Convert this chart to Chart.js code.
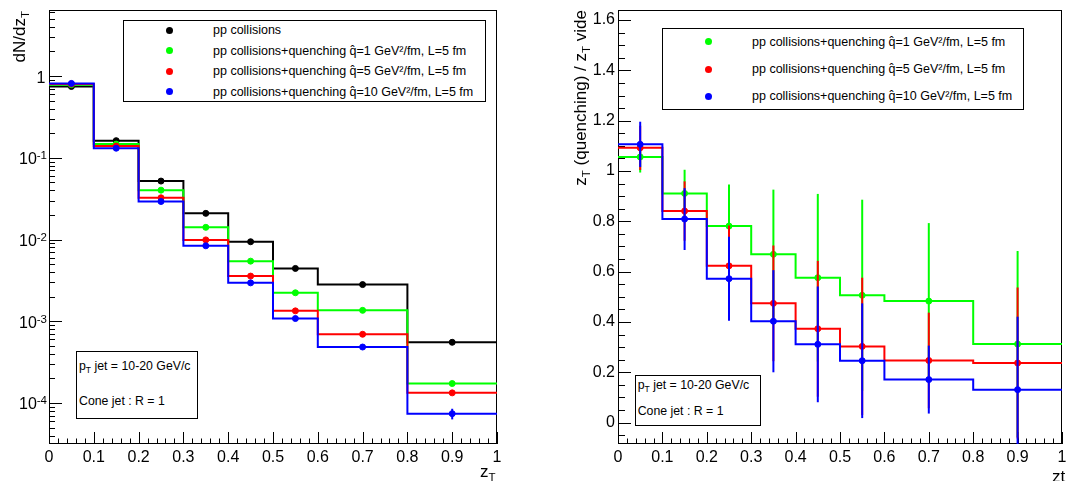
<!DOCTYPE html>
<html>
<head>
<meta charset="utf-8">
<script src="https://cdn.jsdelivr.net/npm/chart.js@4.4.1/dist/chart.umd.min.js"></script>
<style>
body{margin:0;background:#fff;}
#wrap{position:relative;width:1067px;height:481px;overflow:hidden;font-family:"Liberation Sans",Arial,Helvetica,sans-serif;color:#000;background:#fff}
canvas{position:absolute;top:0}
.box{position:absolute;border:1px solid #000;background:#fff;box-sizing:border-box}
.dot{position:absolute;width:7px;height:7px;border-radius:50%;margin:-3.5px 0 0 -3.5px}
.lbl{position:absolute;font-size:12.5px;line-height:1;white-space:nowrap;transform:translateY(-50%)}
.txt{position:absolute;font-size:12.3px;line-height:1;white-space:nowrap}
.txt sub{font-size:8.5px;line-height:0;vertical-align:-3px}
.ytitle{position:absolute;width:220px;text-align:right;font-size:17px;line-height:1;white-space:nowrap;transform-origin:0 0;transform:rotate(-90deg)}
.xtitle{position:absolute;font-size:17px;line-height:1;white-space:nowrap}
.ytitle sub,.xtitle sub{font-size:11.5px;line-height:0;vertical-align:-4px}
</style>
</head>
<body>
<div id="wrap">
  <canvas id="cL" width="534" height="481" style="left:0"></canvas>
  <canvas id="cR" width="533" height="481" style="left:534px"></canvas>

  <div class="ytitle" style="left:10.6px;top:231px">dN/dz<sub>T</sub></div>
  <div class="xtitle" style="left:480px;top:462.6px">z<sub>T</sub></div>
  <div class="ytitle" style="left:572.3px;top:230px">z<sub>T</sub> (quenching) / z<sub>T</sub> vide</div>
  <div class="xtitle" style="left:1052px;top:467.5px">zt</div>

  <div id="legL" class="box" style="left:123px;top:20px;width:363px;height:82px"></div>
  <div id="legR" class="box" style="left:662px;top:28px;width:362px;height:82px"></div>

  <div class="box" style="left:76px;top:351px;width:122px;height:68px">
    <div class="txt" style="left:2px;top:7.6px">p<sub>T</sub> jet = 10-20 GeV/c</div>
    <div class="txt" style="left:2px;top:42.6px">Cone jet : R = 1</div>
  </div>
  <div class="box" style="left:635px;top:375px;width:126px;height:51px">
    <div class="txt" style="left:1.7px;top:2.9px">p<sub>T</sub> jet = 10-20 GeV/c</div>
    <div class="txt" style="left:1.7px;top:28.6px">Cone jet : R = 1</div>
  </div>
</div>

<script>
// bins in z_T
const binEdges = [0, 0.1, 0.2, 0.3, 0.4, 0.5, 0.6, 0.8, 1.0];
const binCenters = [0.05, 0.15, 0.25, 0.35, 0.45, 0.55, 0.7, 0.9];

const seriesNames = [
  'pp collisions',
  'pp collisions+quenching q\u0302=1 GeV\u00b2/fm, L=5 fm',
  'pp collisions+quenching q\u0302=5 GeV\u00b2/fm, L=5 fm',
  'pp collisions+quenching q\u0302=10 GeV\u00b2/fm, L=5 fm'
];
const seriesColors = ['#000000', '#00ff00', '#ff0000', '#0000ff'];

// left panel: dN/dzT
const dndzPP  = [0.745, 0.162, 0.0519, 0.0209, 0.0094, 0.00443, 0.00281, 0.000553];
const dndzQ1  = [0.783, 0.147, 0.0402, 0.0141, 0.00544, 0.00223, 0.00136, 0.000173];
const dndzQ5  = [0.800, 0.139, 0.0324, 0.0099, 0.00357, 0.00134, 0.000693, 0.000133];
const dndzQ10 = [0.813, 0.131, 0.0292, 0.00838, 0.00295, 0.00108, 0.000484, 0.000074];
const dndzErrPP  = [0, 0, 0, 0, 0, 0, 0, 0.000008];
const dndzErrQ1  = [0, 0, 0, 0, 0, 0, 0, 0.000006];
const dndzErrQ5  = [0, 0, 0, 0, 0, 0, 0.00002, 0.000008];
const dndzErrQ10 = [0, 0, 0, 0, 0, 0, 0.00002, 0.000011];

// right panel: ratio quenching / vide
const ratioQ1  = [1.056, 0.911, 0.781, 0.669, 0.576, 0.506, 0.483, 0.312];
const ratioQ5  = [1.092, 0.841, 0.623, 0.474, 0.373, 0.303, 0.247, 0.237];
const ratioQ10 = [1.106, 0.809, 0.572, 0.403, 0.311, 0.246, 0.171, 0.131];
const ratioErrQ1  = [0.062, 0.094, 0.165, 0.257, 0.333, 0.38, 0.31, 0.37];
const ratioErrQ5  = [0.088, 0.118, 0.16, 0.23, 0.27, 0.273, 0.19, 0.30];
const ratioErrQ10 = [0.09, 0.123, 0.167, 0.203, 0.23, 0.228, 0.135, 0.29];

// tick labels
const xTickLabels = ['0', '0.1', '0.2', '0.3', '0.4', '0.5', '0.6', '0.7', '0.8', '0.9', '1'];
const ratioTickLabels = ['0', '0.2', '0.4', '0.6', '0.8', '1', '1.2', '1.4', '1.6'];
const logDecades = [0, -1, -2, -3, -4];

const FONT = '"Liberation Sans", Arial, Helvetica, sans-serif';

function stepData(vals) {
  return binEdges.map((x, i) => ({x: x, y: vals[Math.min(i, vals.length - 1)]}));
}
function pointData(vals) {
  return binCenters.map((x, i) => ({x: x, y: vals[i]}));
}

function histSets(valsList, errList, colors) {
  const sets = [];
  const n = valsList.length;
  valsList.forEach((vals, i) => {
    const ord = (n - i) * 2;
    sets.push({
      data: stepData(vals), showLine: true, stepped: 'before',
      borderColor: colors[i], borderWidth: 2, pointRadius: 0, fill: false, order: ord
    });
    sets.push({
      data: pointData(vals), errY: errList[i], showLine: false,
      pointRadius: 3, pointBorderWidth: 1,
      pointBackgroundColor: colors[i], pointBorderColor: colors[i], order: ord - 1
    });
  });
  return sets;
}

const errorBars = {
  id: 'errorBars',
  beforeDatasetDraw(chart, args) {
    const ds = chart.data.datasets[args.index];
    if (!ds.errY) return;
    const ctx = chart.ctx, a = chart.chartArea, ys = chart.scales.y;
    ctx.save();
    ctx.beginPath(); ctx.rect(a.left, a.top, a.width, a.height); ctx.clip();
    ctx.strokeStyle = ds.pointBackgroundColor; ctx.lineWidth = 2;
    args.meta.data.forEach((pt, i) => {
      const e = ds.errY[i];
      if (!e) return;
      const v = ds.data[i].y;
      const y1 = ys.getPixelForValue(v + e);
      const y2 = (v - e > 0 || ys.type !== 'logarithmic') ? ys.getPixelForValue(v - e) : a.bottom;
      ctx.beginPath(); ctx.moveTo(pt.x, y1); ctx.lineTo(pt.x, y2); ctx.stroke();
    });
    ctx.restore();
  }
};

// ROOT like frame with ticks pointing inside
function rootAxes(isXMajor, isYMajor, xLen, yLen) {
  return {
    id: 'rootAxes',
    beforeDatasetsDraw(chart) {
      const ctx = chart.ctx, a = chart.chartArea;
      ctx.save();
      ctx.strokeStyle = '#000'; ctx.lineWidth = 1;
      chart.scales.x.ticks.forEach(t => {
        const px = Math.round(chart.scales.x.getPixelForValue(t.value)) + 0.5;
        const len = isXMajor(t.value) ? xLen[0] : xLen[1];
        ctx.beginPath(); ctx.moveTo(px, a.bottom); ctx.lineTo(px, a.bottom - len); ctx.stroke();
      });
      chart.scales.y.ticks.forEach(t => {
        const py = Math.round(chart.scales.y.getPixelForValue(t.value)) + 0.5;
        const len = isYMajor(t.value) ? yLen[0] : yLen[1];
        ctx.beginPath(); ctx.moveTo(a.left, py); ctx.lineTo(a.left + len, py); ctx.stroke();
      });
      ctx.strokeRect(a.left + 0.5, a.top + 0.5, a.width - 1, a.height - 1);
      ctx.restore();
    }
  };
}

const logLabels = {
  id: 'logLabels',
  afterDraw(chart) {
    const ctx = chart.ctx, ys = chart.scales.y;
    ctx.save();
    ctx.fillStyle = '#000';
    ctx.textAlign = 'right';
    ctx.textBaseline = 'alphabetic';
    logDecades.forEach(d => {
      const y = ys.getPixelForValue(Math.pow(10, d));
      if (d === 0) {
        ctx.font = '16px ' + FONT;
        ctx.fillText('1', 45.5, y + 6.5);
      } else {
        const ex = String(d);
        ctx.font = '11.5px ' + FONT;
        const w = ctx.measureText(ex).width;
        ctx.fillText(ex, 47, y + 1.5);
        ctx.font = '16px ' + FONT;
        ctx.fillText('10', 47 - w, y + 6.5);
      }
    });
    ctx.restore();
  }
};

const near = (v, s) => Math.abs(v / s - Math.round(v / s)) < 1e-6;

function xScale() {
  return {
    type: 'linear', min: 0, max: 1,
    afterBuildTicks: s => { const t = []; for (let k = 0; k <= 50; k++) t.push({value: k * 0.02}); s.ticks = t; },
    afterFit: s => { s.height = 37; s.paddingLeft = 0; s.paddingRight = 0; },
    grid: {display: false, drawTicks: false},
    border: {display: false},
    ticks: {
      autoSkip: false, maxRotation: 0, padding: 4, color: '#000',
      font: {family: FONT, size: 16},
      callback: v => { const k = Math.round(v * 50); return k % 5 === 0 ? xTickLabels[k / 5] : ''; }
    }
  };
}

function makeLegend(el, names, colors) {
  const h = 82, n = names.length;
  names.forEach((name, i) => {
    const yc = h * (i + 0.5) / n - 1;
    const dot = document.createElement('div');
    dot.className = 'dot';
    dot.style.left = '45.5px'; dot.style.top = yc + 'px'; dot.style.background = colors[i];
    const lbl = document.createElement('div');
    lbl.className = 'lbl';
    lbl.style.left = '89px'; lbl.style.top = yc + 'px';
    lbl.textContent = name;
    el.appendChild(dot); el.appendChild(lbl);
  });
}

makeLegend(document.getElementById('legL'), seriesNames, seriesColors);
makeLegend(document.getElementById('legR'), seriesNames.slice(1), seriesColors.slice(1));

new Chart(document.getElementById('cL'), {
  type: 'line',
  data: {
    datasets: histSets([dndzPP, dndzQ1, dndzQ5, dndzQ10],
                       [dndzErrPP, dndzErrQ1, dndzErrQ5, dndzErrQ10], seriesColors)
  },
  options: {
    responsive: false, animation: false, events: [],
    layout: {padding: {top: 10, right: 37, left: 0, bottom: 0}},
    plugins: {legend: {display: false}, tooltip: {enabled: false}},
    scales: {
      x: xScale(),
      y: {
        type: 'logarithmic', min: 3.15e-5, max: 6.43,
        afterBuildTicks: s => {
          const t = [];
          for (let d = -5; d <= 0; d++) for (let m = 1; m <= 9; m++) {
            const v = m * Math.pow(10, d);
            if (v >= s.min && v <= s.max) t.push({value: v});
          }
          s.ticks = t;
        },
        afterFit: s => { s.width = 49; s.paddingTop = 0; s.paddingBottom = 0; },
        grid: {display: false, drawTicks: false},
        border: {display: false},
        ticks: {autoSkip: false, callback: () => ''}
      }
    }
  },
  plugins: [rootAxes(v => near(v, 0.1), v => near(Math.log10(v), 1), [12, 5.5], [13, 6]), errorBars, logLabels]
});

new Chart(document.getElementById('cR'), {
  type: 'line',
  data: {
    datasets: histSets([ratioQ1, ratioQ5, ratioQ10],
                       [ratioErrQ1, ratioErrQ5, ratioErrQ10], seriesColors.slice(1))
  },
  options: {
    responsive: false, animation: false, events: [],
    layout: {padding: {top: 10, right: 1, left: 0, bottom: 0}},
    plugins: {legend: {display: false}, tooltip: {enabled: false}},
    scales: {
      x: xScale(),
      y: {
        type: 'linear', min: -0.085, max: 1.64,
        afterBuildTicks: s => { const t = []; for (let k = -1; k <= 32; k++) t.push({value: k * 0.05}); s.ticks = t; },
        afterFit: s => { s.width = 84; s.paddingTop = 0; s.paddingBottom = 0; },
        grid: {display: false, drawTicks: false},
        border: {display: false},
        ticks: {
          autoSkip: false, padding: 3, color: '#000',
          font: {family: FONT, size: 16},
          callback: v => { const k = Math.round(v * 20); return (k >= 0 && k % 4 === 0) ? ratioTickLabels[k / 4] : ''; }
        }
      }
    }
  },
  plugins: [rootAxes(v => near(v, 0.1), v => near(v, 0.2), [12, 5.5], [13, 7]), errorBars]
});
</script>
</body>
</html>
